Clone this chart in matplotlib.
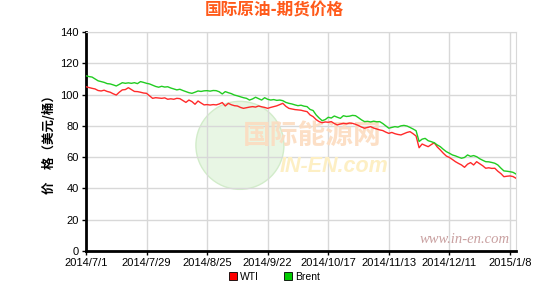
import matplotlib
matplotlib.use("Agg")
import matplotlib.pyplot as plt
from matplotlib.patches import Patch, Ellipse

plt.rcParams['font.family'] = ['Liberation Sans', 'Noto Sans CJK SC', 'DejaVu Sans']

# tick labels every 20 trading days
tick_labels = ['2014/7/1', '2014/7/29', '2014/8/25', '2014/9/22',
               '2014/10/17', '2014/11/13', '2014/12/11', '2015/1/8']

# daily closes (USD/bbl)
brent = [
    112.0, 111.5, 111.2, 110.0, 108.8, 108.3, 107.8, 107.0, 106.8, 106.2,
    105.5, 106.5, 107.6, 107.2, 107.5, 107.2, 107.6, 107.0, 108.3, 107.8,
    107.2, 106.8, 106.0, 105.2, 104.7, 105.3, 104.8, 105.0, 104.2, 103.6,
    103.0, 103.4, 102.6, 101.9, 101.2, 100.8, 101.5, 102.3, 102.0, 102.4,
    102.5, 102.2, 102.6, 102.5, 101.8, 100.4, 101.9, 101.2, 100.6, 99.7,
    99.2, 98.6, 98.0, 97.6, 96.5, 97.2, 98.3, 97.4, 96.5, 98.0,
    97.0, 96.5, 96.8, 96.3, 96.5, 96.1, 95.0, 94.4, 94.0, 93.4,
    92.9, 93.2, 92.6, 92.3, 90.5, 89.8, 87.0, 85.0, 83.3, 84.0,
    85.5, 85.0, 86.3, 85.5, 84.8, 86.5, 86.0, 86.2, 86.7, 86.5,
    85.2, 83.8, 82.7, 82.9, 82.5, 83.0, 82.6, 82.7, 81.5, 80.0,
    78.5, 79.0, 79.5, 79.2, 80.0, 80.3, 79.9, 79.0, 78.0, 76.9,
    70.0, 71.5, 72.0, 70.5, 69.9, 69.2, 67.8, 66.7, 65.0, 63.5,
    62.5, 61.4, 60.8, 60.0, 59.3, 59.8, 61.4, 60.5, 61.0, 60.3,
    59.0, 58.0, 57.1, 57.0, 56.6, 56.1, 55.0, 53.0, 51.2, 51.0,
    50.7, 50.3, 49.2,
]
wti = [
    105.0, 104.5, 104.0, 103.6, 102.6, 102.3, 102.8, 102.0, 101.5, 100.5,
    99.7, 101.5, 103.0, 103.2, 104.4, 103.2, 102.0, 101.9, 101.5, 101.0,
    100.8, 99.2, 97.6, 98.0, 97.8, 97.6, 97.9, 97.0, 97.3, 97.0,
    97.6, 97.4, 96.2, 95.0, 96.5, 95.5, 93.8, 95.9, 94.6, 93.4,
    93.6, 93.3, 93.6, 93.4, 94.0, 94.9, 92.7, 94.4, 93.5, 92.9,
    92.7, 91.8, 91.2, 91.6, 92.0, 92.3, 92.0, 92.7, 92.2, 91.8,
    91.2, 91.8, 92.3, 92.8, 93.6, 94.4, 92.5, 91.2, 90.8, 90.4,
    90.2, 90.0, 89.5, 89.1, 87.0, 85.9, 84.0, 82.7, 82.0, 82.5,
    82.3, 82.7, 81.5, 80.6, 81.2, 81.6, 81.3, 81.8, 81.6, 81.0,
    80.2, 79.2, 78.5, 79.0, 79.5, 78.6, 78.0, 77.4, 77.0, 76.0,
    75.2, 75.8, 75.0, 74.5, 74.2, 75.0, 75.8, 76.3, 75.0, 73.5,
    66.0, 68.4, 67.5, 66.7, 68.0, 69.2, 66.5, 64.6, 62.5, 60.7,
    59.8, 58.5, 57.1, 56.0, 55.0, 53.5, 55.5, 56.5, 55.0, 57.1,
    55.8, 54.5, 52.9, 53.2, 52.8, 52.9, 51.0, 49.5, 47.5, 47.8,
    48.0, 47.6, 46.5,
]

days = list(range(len(wti)))
tick_pos = [i * 20 for i in range(len(tick_labels))]

fig = plt.figure(figsize=(5.49, 2.85), dpi=100)
ax = fig.add_axes([0.1566, 0.1193, 0.7833, 0.7684])

# faint watermark (globe + site name), kept under the grid and the lines
globe = Ellipse((0.437, 0.49), 88 / 549, 88 / 285, transform=fig.transFigure,
                facecolor='#e8f6e4', edgecolor='#d2ecca', lw=1.0, zorder=0.3)
ax.add_patch(globe)
ax.text(0.365, 0.49, '国际能源网', transform=ax.transAxes, fontsize=20,
        fontweight='bold', color='#fcdcc0', alpha=0.9, family=['Noto Sans CJK SC'], zorder=1)
ax.text(0.45, 0.36, 'IN-EN.com', transform=ax.transAxes, fontsize=15.5,
        fontweight='bold', style='italic', color='#fdefc4', zorder=1)
ax.text(0.985, 0.035, 'www.in-en.com', transform=ax.transAxes, fontsize=10.5,
        style='italic', color='#c9a0a0', ha='right', family=['Liberation Serif'], zorder=1)

ax.plot(days, wti, color='#ff2a2a', lw=1.0, zorder=3)
ax.plot(days, brent, color='#22cc22', lw=1.0, zorder=3)

ax.set_xlim(0, len(days) - 1)
ax.set_ylim(0, 140)
ax.set_yticks(range(0, 141, 20))
ax.set_xticks(tick_pos)
ax.set_xticklabels(tick_labels)
ax.tick_params(labelsize=8, length=3, width=1, color='black', pad=2)
ax.grid(True, color='#d8d8d8', lw=1.0, zorder=0.5)
ax.set_axisbelow(True)

for side in ('top', 'right'):
    ax.spines[side].set_color('#d8d8d8')
for side in ('left', 'bottom'):
    ax.spines[side].set_color('black')
    ax.spines[side].set_linewidth(2)

ax.set_ylabel('价　格（美元/桶）', fontsize=9, fontweight='bold',
              family=['Noto Sans CJK SC'], labelpad=3)

fig.text(0.5, 0.962, '国际原油-期货价格', ha='center', va='center', fontsize=12,
         fontweight='bold', color='#ff5a1a', family=['Noto Sans CJK SC'])

handles = [Patch(facecolor='#ff0000', edgecolor='black', lw=0.6, label='WTI'),
           Patch(facecolor='#00cc00', edgecolor='black', lw=0.6, label='Brent')]
fig.legend(handles=handles, loc='center', bbox_to_anchor=(0.5, 0.028), ncol=2,
           frameon=False, fontsize=7.5, handlelength=0.8, handleheight=0.8,
           handletextpad=0.3, columnspacing=2.4, borderpad=0)

fig.savefig('out.png', dpi=100)
